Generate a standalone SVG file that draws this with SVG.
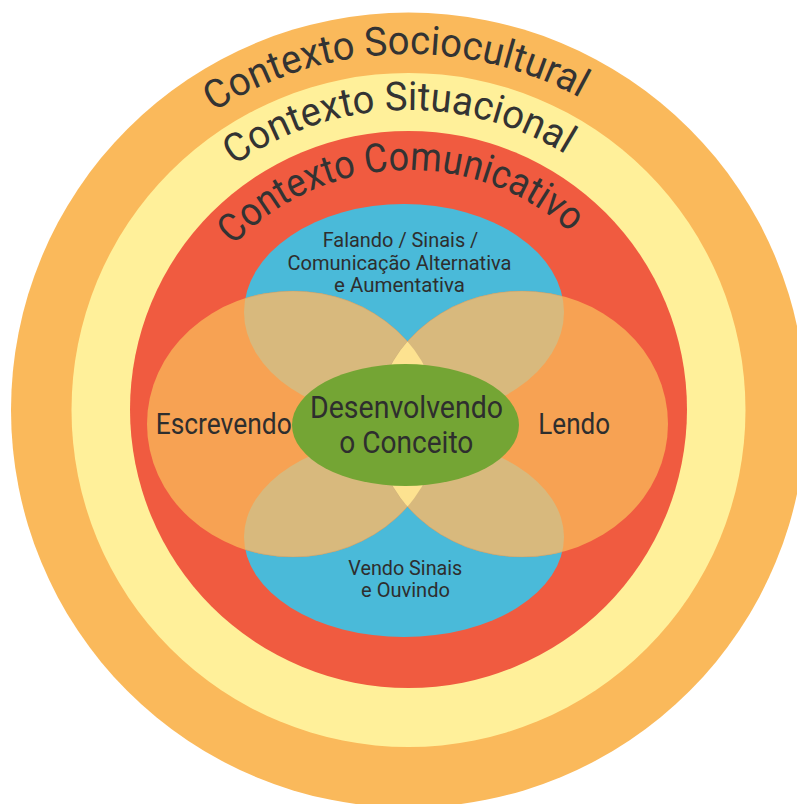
<svg xmlns="http://www.w3.org/2000/svg" width="797" height="804" viewBox="0 0 797 804">
<style>
.lbl{font-family:Roboto,"Liberation Sans",sans-serif;fill:#2e2e2e;text-anchor:middle}
.arc{font-family:Roboto,"Liberation Sans",sans-serif;fill:#333333;font-size:40px}
.edge{stroke:#b99a70;stroke-opacity:0.45;stroke-width:0.8}
</style>
<defs>
<path id="pSocio" d="M52.76,423.67 A356,356 0 0 1 764.24,396.33"/>
<path id="pSitu" d="M108.68,420.47 A300,300 0 0 1 708.32,399.53"/>
<path id="pComu" d="M167.68,419.25 A241,241 0 0 1 649.32,400.75"/>
<clipPath id="cBlueTop"><ellipse cx="404" cy="312" rx="160" ry="108"/></clipPath>
<clipPath id="cBlueBot"><ellipse cx="404" cy="537" rx="160" ry="100"/></clipPath>
<clipPath id="cOrR"><ellipse cx="522" cy="424" rx="146" ry="133"/></clipPath>
</defs>
<rect width="797" height="804" fill="#ffffff"/>
<g id="sociocultural">
<circle cx="408.5" cy="410" r="397.5" fill="#FAB95B"/>
<text class="arc"><textPath href="#pSocio" startOffset="50%" text-anchor="middle" textLength="385" lengthAdjust="spacingAndGlyphs">Contexto Sociocultural</textPath></text>
</g>
<g id="situacional">
<circle cx="408.5" cy="410" r="337" fill="#FFF09A"/>
<text class="arc"><textPath href="#pSitu" startOffset="50%" text-anchor="middle" textLength="351" lengthAdjust="spacingAndGlyphs">Contexto Situacional</textPath></text>
</g>
<g id="comunicativo">
<circle cx="408.5" cy="409.5" r="278.5" fill="#F05B40"/>
<text class="arc"><textPath href="#pComu" startOffset="50%" text-anchor="middle" textLength="374" lengthAdjust="spacingAndGlyphs">Contexto Comunicativo</textPath></text>
</g>
<g id="falando">
<ellipse cx="404" cy="312" rx="160" ry="108" fill="#4ABAD9"/>
</g>
<g id="vendo">
<ellipse cx="404" cy="537" rx="160" ry="100" fill="#4ABAD9"/>
</g>
<g id="escrevendo">
<ellipse cx="293" cy="424" rx="146" ry="133" fill="#F7A253"/>
</g>
<g id="lendo">
<ellipse cx="522" cy="424" rx="146" ry="133" fill="#F7A253"/>
</g>
<g id="overlaps">
<ellipse class="edge" cx="293" cy="424" rx="146" ry="133" fill="#D8B97D" clip-path="url(#cBlueTop)"/>
<ellipse class="edge" cx="293" cy="424" rx="146" ry="133" fill="#D8B97D" clip-path="url(#cBlueBot)"/>
<ellipse class="edge" cx="522" cy="424" rx="146" ry="133" fill="#D8B97D" clip-path="url(#cBlueTop)"/>
<ellipse class="edge" cx="522" cy="424" rx="146" ry="133" fill="#D8B97D" clip-path="url(#cBlueBot)"/>
<ellipse cx="293" cy="424" rx="146" ry="133" fill="#FDE290" clip-path="url(#cOrR)"/>
</g>
<g id="conceito">
<ellipse cx="405.5" cy="425" rx="113.5" ry="61" fill="#74A534"/>
<text class="lbl" x="406.5" y="418.3" font-size="32" textLength="193" lengthAdjust="spacingAndGlyphs">Desenvolvendo</text>
<text class="lbl" x="406.3" y="452.7" font-size="32" textLength="134" lengthAdjust="spacingAndGlyphs">o Conceito</text>
</g>
<g id="labels">
<text class="lbl" x="400.5" y="247.3" font-size="20.5" textLength="155.7" lengthAdjust="spacingAndGlyphs">Falando / Sinais /</text>
<text class="lbl" x="399.5" y="270" font-size="20.5" textLength="224" lengthAdjust="spacingAndGlyphs">Comunicação Alternativa</text>
<text class="lbl" x="399.5" y="291.7" font-size="20.5" textLength="131" lengthAdjust="spacingAndGlyphs">e Aumentativa</text>
<text class="lbl" x="223.7" y="434" font-size="29" textLength="136" lengthAdjust="spacingAndGlyphs">Escrevendo</text>
<text class="lbl" x="574.2" y="434" font-size="29" textLength="71.7" lengthAdjust="spacingAndGlyphs">Lendo</text>
<text class="lbl" x="405.3" y="575" font-size="20.5" textLength="114" lengthAdjust="spacingAndGlyphs">Vendo Sinais</text>
<text class="lbl" x="405.5" y="597.3" font-size="20.5" textLength="89" lengthAdjust="spacingAndGlyphs">e Ouvindo</text>
</g>
</svg>
